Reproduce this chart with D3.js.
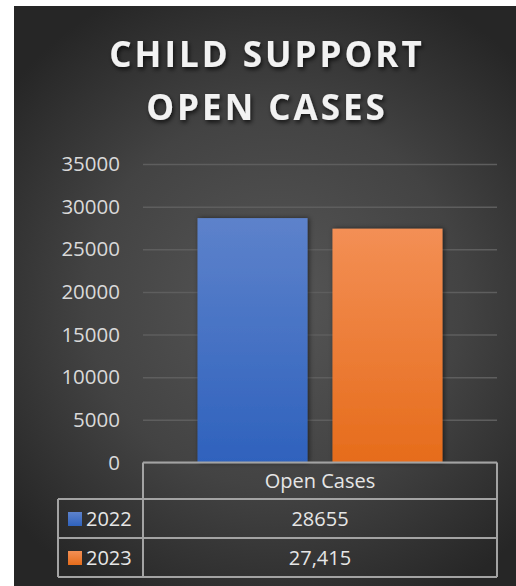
<!DOCTYPE html>
<html>
<head>
<meta charset="utf-8">
<script src="https://cdn.jsdelivr.net/npm/d3@7/dist/d3.min.js"></script>
<style>
  html, body { margin: 0; padding: 0; background: #ffffff; }
  svg { display: block; }
</style>
</head>
<body>
<svg id="chart" width="516" height="586"></svg>
<script>
// Chart content
const titleLines = ["CHILD SUPPORT", "OPEN CASES"];
const categories = ["Open Cases"];
const seriesNames = ["2022", "2023"];
const seriesValues = [28655, 27415];
const tableLabels = ["28655", "27,415"];
const yTicks = [0, 5000, 10000, 15000, 20000, 25000, 30000, 35000];

const colors = {
  "2022": { top: "#5d82cb", bottom: "#2f62bd", key: "#4472c4" },
  "2023": { top: "#f38f55", bottom: "#e66c1b", key: "#ed7d31" }
};

const svg = d3.select("#chart");
const defs = svg.append("defs");

// Background panel with a soft radial vignette
const bg = defs.append("radialGradient").attr("id", "bgGrad")
  .attr("gradientUnits", "userSpaceOnUse")
  .attr("cx", 275).attr("cy", 300).attr("r", 340);
bg.append("stop").attr("offset", "0%").attr("stop-color", "#565656");
bg.append("stop").attr("offset", "55%").attr("stop-color", "#434343");
bg.append("stop").attr("offset", "100%").attr("stop-color", "#262626");

seriesNames.forEach(s => {
  const g = defs.append("linearGradient").attr("id", "grad" + s)
    .attr("x1", 0).attr("y1", 0).attr("x2", 0).attr("y2", 1);
  g.append("stop").attr("offset", "0%").attr("stop-color", colors[s].top);
  g.append("stop").attr("offset", "100%").attr("stop-color", colors[s].bottom);
});

const titleShadow = defs.append("filter").attr("id", "titleShadow")
  .attr("x", "-10%").attr("y", "-30%").attr("width", "120%").attr("height", "160%");
titleShadow.append("feDropShadow").attr("dx", 1.5).attr("dy", 2.5)
  .attr("stdDeviation", 2).attr("flood-color", "#000").attr("flood-opacity", 0.7);

const barShadow = defs.append("filter").attr("id", "barShadow")
  .attr("x", "-20%").attr("y", "-10%").attr("width", "140%").attr("height", "120%");
barShadow.append("feDropShadow").attr("dx", 1.5).attr("dy", 0)
  .attr("stdDeviation", 2.5).attr("flood-color", "#000").attr("flood-opacity", 0.55);

svg.append("rect")
  .attr("x", 14).attr("y", 6).attr("width", 502).attr("height", 580)
  .attr("fill", "url(#bgGrad)");

// Title
svg.append("g").attr("filter", "url(#titleShadow)")
  .selectAll("text").data(titleLines).join("text")
  .attr("x", 267)
  .attr("y", (d, i) => 66.5 + i * 53.5)
  .attr("text-anchor", "middle")
  .attr("font-family", "'Open Sans', sans-serif")
  .attr("font-weight", 700)
  .attr("font-size", 35)
  .attr("letter-spacing", 3)
  .attr("fill", "#f2f2f2")
  .text(d => d);

// Scales
const plotLeft = 143, plotRight = 497;
const y = d3.scaleLinear().domain([0, 35000]).range([462.5, 164]);
const xCat = d3.scaleBand().domain(categories).range([plotLeft, plotRight]);
const xSeries = d3.scaleBand().domain(seriesNames)
  .range([0, xCat.bandwidth()])
  .paddingInner(0.185).paddingOuter(0.404);

// Gridlines and value axis
const yAxis = d3.axisLeft(y)
  .tickValues(yTicks)
  .tickFormat(d3.format("d"))
  .tickSize(-(plotRight - plotLeft))
  .tickPadding(23);

const axisG = svg.append("g")
  .attr("transform", `translate(${plotLeft},0)`)
  .call(yAxis);
axisG.select(".domain").remove();
axisG.selectAll(".tick line")
  .attr("stroke", "#5e5e5e").attr("stroke-width", 1.5);
axisG.selectAll(".tick text")
  .attr("fill", "#d9d9d9")
  .attr("font-family", "'Open Sans', sans-serif")
  .attr("font-size", 20.5);

// Bars
const bars = svg.append("g").selectAll("g.cat").data(categories).join("g")
  .attr("transform", d => `translate(${xCat(d)},0)`);
bars.selectAll("rect")
  .data(() => seriesNames.map((s, i) => ({ s, v: seriesValues[i] })))
  .join("rect")
  .attr("x", d => xSeries(d.s))
  .attr("y", d => y(d.v))
  .attr("width", xSeries.bandwidth())
  .attr("height", d => y(0) - y(d.v))
  .attr("fill", d => `url(#grad${d.s})`)
  .attr("filter", "url(#barShadow)");

// Data table beneath the plot
const tableLeft = 58;
const headerBottom = 499;
const rowH = 39;
const rowTops = seriesNames.map((s, i) => headerBottom + i * rowH);
const tableBottom = headerBottom + seriesNames.length * rowH;
const lineColor = "#a3a3a3";

const table = svg.append("g");
const hLines = [
  { x1: plotLeft, x2: plotRight, y: y(0) },
  ...rowTops.map(t => ({ x1: tableLeft, x2: plotRight, y: t })),
  { x1: tableLeft, x2: plotRight, y: tableBottom }
];
table.selectAll("line.h").data(hLines).join("line")
  .attr("x1", d => d.x1).attr("x2", d => d.x2)
  .attr("y1", d => d.y).attr("y2", d => d.y)
  .attr("stroke", lineColor).attr("stroke-width", 2);
const vLines = [
  { x: tableLeft, y1: headerBottom, y2: tableBottom },
  { x: plotLeft, y1: y(0), y2: tableBottom },
  { x: plotRight, y1: y(0), y2: tableBottom }
];
table.selectAll("line.v").data(vLines).join("line")
  .attr("x1", d => d.x).attr("x2", d => d.x)
  .attr("y1", d => d.y1).attr("y2", d => d.y2)
  .attr("stroke", lineColor).attr("stroke-width", 2);

const textStyle = sel => sel
  .attr("fill", "#e6e6e6")
  .attr("font-family", "'Open Sans', sans-serif")
  .attr("font-size", 20);

table.selectAll("text.cat").data(categories).join("text")
  .attr("x", d => xCat(d) + xCat.bandwidth() / 2)
  .attr("y", (y(0) + headerBottom) / 2 + 7)
  .attr("text-anchor", "middle")
  .call(textStyle)
  .text(d => d);

table.selectAll("rect.key").data(seriesNames).join("rect")
  .attr("x", 68).attr("y", (d, i) => rowTops[i] + 13)
  .attr("width", 14).attr("height", 14)
  .attr("fill", d => `url(#grad${d})`);

table.selectAll("text.series").data(seriesNames).join("text")
  .attr("x", 86).attr("y", (d, i) => rowTops[i] + 27)
  .call(textStyle)
  .text(d => d);

table.selectAll("text.val").data(tableLabels).join("text")
  .attr("x", xCat(categories[0]) + xCat.bandwidth() / 2)
  .attr("y", (d, i) => rowTops[i] + 27)
  .attr("text-anchor", "middle")
  .call(textStyle)
  .text(d => d);
</script>
</body>
</html>
